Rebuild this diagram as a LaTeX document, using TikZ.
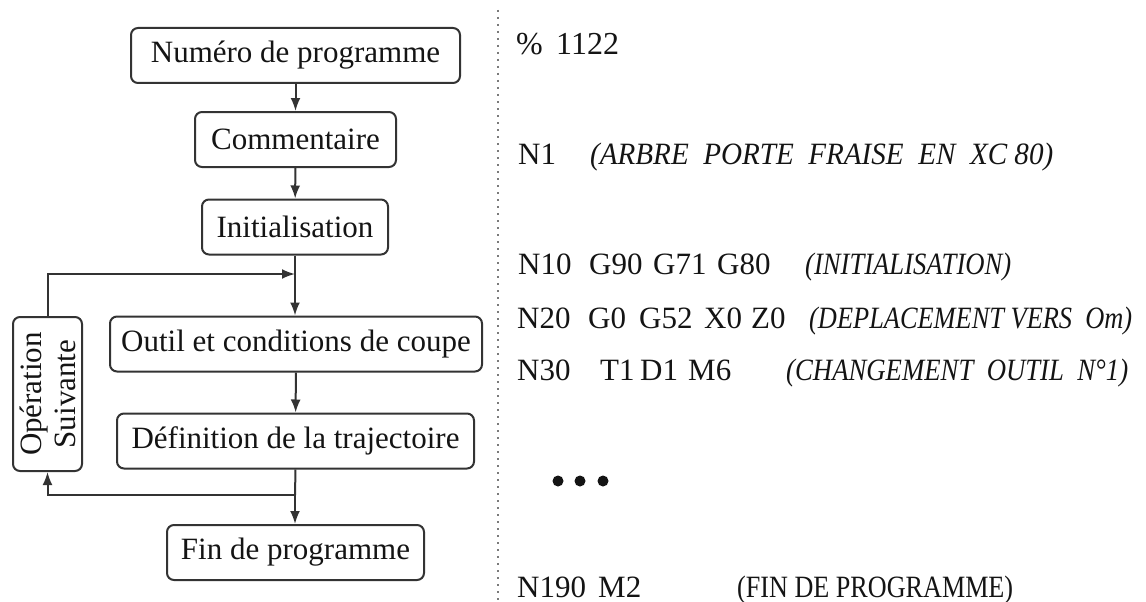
\documentclass[tikz,border=0pt]{standalone}
\usepackage{fontspec}
\usepackage{graphicx}
\setmainfont{Liberation Serif}
\usetikzlibrary{arrows.meta}
\definecolor{ink}{HTML}{141414}
\definecolor{frame}{HTML}{333333}
\definecolor{dotgray}{HTML}{7A7A7A}
% set a piece of text to a given width (in pt) by scaling it horizontally
\newlength\fitlen
\newcommand\fitw[2]{\settowidth\fitlen{#2}\pgfmathsetmacro\fitfac{#1/\fitlen}\scalebox{\fitfac}[1]{#2}}
\begin{document}
\begin{tikzpicture}[x=1pt,y=-1pt,
  stepbox/.style={draw=frame, line width=2pt, rounded corners=7pt,
    minimum height=55pt, inner sep=0pt, text=ink,
    font=\fontsize{31}{34}\selectfont},
  flow/.style={draw=frame, line width=2pt, -{Latex[length=13pt,width=10pt]}},
  wire/.style={draw=frame, line width=2pt},
  divider/.style={draw=dotgray, line width=2.2pt, dash pattern=on 2pt off 5pt},
  code/.style={anchor=base west, inner sep=0pt, text=ink,
    font=\fontsize{31}{34}\selectfont},
  codeit/.style={code, font=\fontsize{31}{34}\selectfont\itshape},
  bullet/.style={circle, fill=ink, inner sep=0pt, minimum size=11pt},
  ]
\useasboundingbox (0,0) rectangle (1146,602);
\fill[white] (0,0) rectangle (1146,602);

% ---- flow chart of a CNC program ----
\node[stepbox, minimum width=329pt] (prog)  at (295.5,55.5)  {Numéro de programme};
\node[stepbox, minimum width=201pt] (comm)  at (295.5,139.5) {Commentaire};
\node[stepbox, minimum width=186pt] (init)  at (295,227)     {Initialisation};
\node[stepbox, minimum width=372pt] (outil) at (296,344)     {Outil et conditions de coupe};
\node[stepbox, minimum width=357pt] (traj)  at (295.5,441)   {Définition de la trajectoire};
\node[stepbox, minimum width=257pt] (fin)   at (295.5,552.5) {Fin de programme};
\node[stepbox, minimum width=154pt, minimum height=69pt, rotate=90,
      align=center] (op) at (47.5,394) {Opération\\Suivante};

\coordinate (merge) at (295,274);
\coordinate (split) at (295,495);

\draw[flow] (prog) -- (comm);
\draw[flow] (comm) -- (init);
\draw[wire] (init.south) -- (merge);
\draw[flow] (merge) -- (merge |- outil.north);
\draw[flow] (outil) -- (traj);
\draw[wire] (traj.south) -- (split);
\draw[flow] (split) -- (split |- fin.north);
\draw[flow] (split) -| (op.west);
\draw[flow] (op.east) |- (merge);

% ---- separator ----
\coordinate (dtop) at (498,10);
\coordinate (dbot) at (498,602);
\draw[divider] (dtop) -- (dbot);

% ---- program listing ----
\node[code, font=\fontsize{32}{34}\selectfont] (l0) at (516,55) {\%\ \,1122};

\node[code]   (l1n) at (518,164) {N1};
\node[codeit] (l1c) at (590,164) {\fitw{463}{(ARBRE\ \ PORTE\ \ FRAISE\ \ EN\ \ XC 80)}};

\node[code]   (l2n) at (518,274) {N10};
\node[code]   (l2a) at (589,274) {G90};
\node[code]   (l2b) at (653,274) {G71};
\node[code]   (l2d) at (717,274) {G80};
\node[codeit] (l2c) at (805,274) {\fitw{206}{(INITIALISATION)}};

\node[code]   (l3n) at (517,328) {N20};
\node[code]   (l3a) at (588,328) {G0};
\node[code]   (l3b) at (639,328) {G52};
\node[code]   (l3d) at (704,328) {X0};
\node[code]   (l3e) at (751,328) {Z0};
\node[codeit] (l3c) at (809,328) {\fitw{323}{(DEPLACEMENT VERS\ \ Om)}};

\node[code]   (l4n) at (517,380) {N30};
\node[code]   (l4a) at (600,380) {T1};
\node[code]   (l4b) at (640,380) {D1};
\node[code]   (l4d) at (688,380) {M6};
\node[codeit] (l4c) at (786,380) {\fitw{342}{(CHANGEMENT\ \ OUTIL\ \ N°1)}};

\node[bullet] (d1) at (558,481) {};
\node[bullet] (d2) at (580,481) {};
\node[bullet] (d3) at (603,481) {};

\node[code] (l5n) at (517,597) {N190};
\node[code] (l5a) at (598,597) {M2};
\node[code] (l5c) at (737,597) {\fitw{276}{(FIN DE PROGRAMME)}};
\end{tikzpicture}
\end{document}
